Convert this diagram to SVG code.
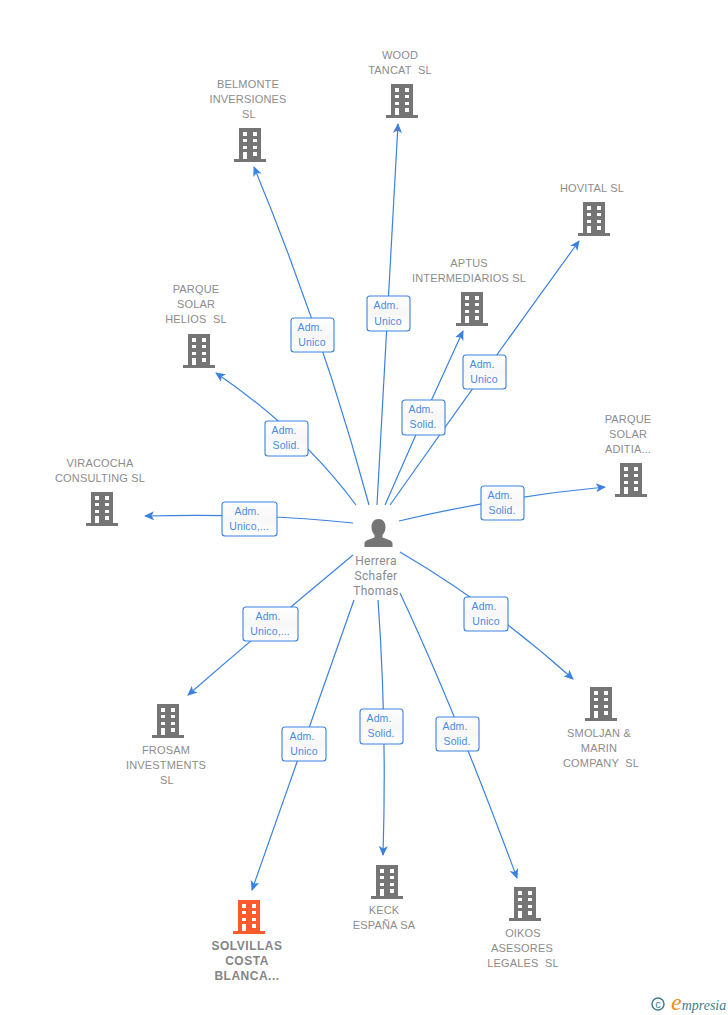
<svg xmlns="http://www.w3.org/2000/svg" width="728" height="1015" viewBox="0 0 728 1015">
<style>
.n{font-family:"Liberation Sans",Arial,sans-serif;font-size:11px;letter-spacing:.17px;fill:#8c8c8c;text-anchor:middle}
.b{font-weight:bold;font-size:12px;letter-spacing:.5px;fill:#858585}
.p{font-family:Roboto,"Liberation Sans",sans-serif;font-size:12px;letter-spacing:.25px;fill:#8a8a8a;text-anchor:middle}
.l{font-family:"Liberation Sans",Arial,sans-serif;font-size:10.5px;letter-spacing:.1px;fill:#4a8ae2;text-anchor:middle}
.c path{fill:none;stroke:#3b82e0;stroke-width:1.2;marker-end:url(#a)}
.x{fill:url(#g);stroke:#3b82e0;stroke-width:1.1}
.w{fill:#fff}
</style>
<defs>
<linearGradient id="g" x1="0" y1="0" x2="0" y2="1"><stop offset="0" stop-color="#fff"/><stop offset=".5" stop-color="#f7f7f7"/><stop offset="1" stop-color="#fff"/></linearGradient>
<marker id="a" markerWidth="11" markerHeight="10" refX="9" refY="5" orient="auto" markerUnits="userSpaceOnUse"><path d="M0 0.5L10 5L0 9.500L2.500 5Z" fill="#3b82e0"/></marker>
<g id="bd">
<path d="M5 0H27V31H32V34H0V31H5Z"/>
<path class="w" d="M9 4h4v4h-4zM19 4h4v4h-4zM9 11h4v3h-4zM19 11h4v3h-4zM9 18h4v3h-4zM19 18h4v3h-4zM9 24h4v7h-4zM19 24h4v4h-4z"/>
</g>
</defs>
<rect width="728" height="1015" fill="#fff"/>
<g class="c" id="connectors">
<path d="M369 505Q323 334 254 167"/>
<path d="M377 505Q388 313 398 124"/>
<path d="M390 505Q484 372 579 241"/>
<path d="M385 505Q423 417 463 331"/>
<path d="M356 505Q300 430 216 373"/>
<path d="M399 521Q500 497 605 487"/>
<path d="M353 523Q260 513 145 516"/>
<path d="M353 555Q271 623 188 695"/>
<path d="M400 552Q489 604 573 679"/>
<path d="M354 600Q304 743 252 890"/>
<path d="M378 600Q387 726 383 855"/>
<path d="M400 593Q454 708 517 878"/>
</g>
<g id="link-labels">
<g><rect class="x" x="291" y="318" width="43" height="34" rx="3"/><text class="l" x="310" y="331">Adm.</text><text class="l" x="312" y="346">Unico</text></g>
<g><rect class="x" x="367" y="296" width="43" height="35" rx="3"/><text class="l" x="386" y="309">Adm.</text><text class="l" x="388" y="325">Unico</text></g>
<g><rect class="x" x="463" y="355" width="43" height="34" rx="3"/><text class="l" x="482" y="368">Adm.</text><text class="l" x="484" y="383">Unico</text></g>
<g><rect class="x" x="402" y="400" width="43" height="35" rx="3"/><text class="l" x="421" y="413">Adm.</text><text class="l" x="423" y="428">Solid.</text></g>
<g><rect class="x" x="265" y="421" width="43" height="35" rx="3"/><text class="l" x="284" y="434">Adm.</text><text class="l" x="286" y="449">Solid.</text></g>
<g><rect class="x" x="222" y="502" width="55" height="34" rx="3"/><text class="l" x="247" y="515">Adm.</text><text class="l" x="249" y="530">Unico,...</text></g>
<g><rect class="x" x="481" y="486" width="43" height="34" rx="3"/><text class="l" x="500" y="499">Adm.</text><text class="l" x="502" y="514">Solid.</text></g>
<g><rect class="x" x="243" y="607" width="55" height="34" rx="3"/><text class="l" x="268" y="620">Adm.</text><text class="l" x="270" y="635">Unico,...</text></g>
<g><rect class="x" x="464" y="597" width="44" height="34" rx="3"/><text class="l" x="484" y="610">Adm.</text><text class="l" x="486" y="625">Unico</text></g>
<g><rect class="x" x="282" y="727" width="44" height="34" rx="3"/><text class="l" x="302" y="740">Adm.</text><text class="l" x="304" y="755">Unico</text></g>
<g><rect class="x" x="360" y="709" width="43" height="35" rx="3"/><text class="l" x="379" y="722">Adm.</text><text class="l" x="381" y="737">Solid.</text></g>
<g><rect class="x" x="436" y="717" width="43" height="34" rx="3"/><text class="l" x="455" y="730">Adm.</text><text class="l" x="457" y="745">Solid.</text></g>
</g>
<g id="person"><path fill="#757575" d="M378.500 519c-4.500 0-7 3.500-7 8 0 3 1 6 3 8v2.500c-3 1.500-9.500 2.500-10 5.500v4h28v-4c-.5-3-7-4-10-5.500V535c2-2 3-5 3-8 0-4.500-2.500-8-7-8Z"/><text class="p" x="376" y="565">Herrera</text><text class="p" x="376" y="580">Schafer</text><text class="p" x="376" y="595">Thomas</text></g>
<g id="wood"><use href="#bd" x="386" y="84" fill="#757575"/><text class="n" x="400" y="59">WOOD</text><text class="n" x="400" y="74" xml:space="preserve">TANCAT  SL</text></g>
<g id="belmonte"><use href="#bd" x="234" y="128" fill="#757575"/><text class="n" x="248" y="88">BELMONTE</text><text class="n" x="248" y="103">INVERSIONES</text><text class="n" x="249" y="118">SL</text></g>
<g id="hovital"><use href="#bd" x="578" y="202" fill="#757575"/><text class="n" x="592" y="192">HOVITAL SL</text></g>
<g id="aptus"><use href="#bd" x="456" y="292" fill="#757575"/><text class="n" x="469" y="267">APTUS</text><text class="n" x="469" y="282">INTERMEDIARIOS SL</text></g>
<g id="helios"><use href="#bd" x="183" y="334" fill="#757575"/><text class="n" x="196" y="293">PARQUE</text><text class="n" x="196" y="308">SOLAR</text><text class="n" x="196" y="323" xml:space="preserve">HELIOS  SL</text></g>
<g id="aditia"><use href="#bd" x="615" y="463" fill="#757575"/><text class="n" x="628" y="423">PARQUE</text><text class="n" x="628" y="438">SOLAR</text><text class="n" x="628" y="453">ADITIA...</text></g>
<g id="viracocha"><use href="#bd" x="86" y="492" fill="#757575"/><text class="n" x="100" y="467">VIRACOCHA</text><text class="n" x="100" y="482">CONSULTING SL</text></g>
<g id="frosam"><use href="#bd" x="152" y="704" fill="#757575"/><text class="n" x="166" y="754">FROSAM</text><text class="n" x="166" y="769">INVESTMENTS</text><text class="n" x="167" y="784">SL</text></g>
<g id="smoljan"><use href="#bd" x="585" y="687" fill="#757575"/><text class="n" x="599" y="737">SMOLJAN &amp;</text><text class="n" x="599" y="752">MARIN</text><text class="n" x="601" y="767" xml:space="preserve">COMPANY  SL</text></g>
<g id="solvillas"><use href="#bd" x="233" y="900" fill="#ff5a2c"/><text class="n b" x="247" y="950">SOLVILLAS</text><text class="n b" x="247" y="965">COSTA</text><text class="n b" x="247" y="980">BLANCA...</text></g>
<g id="keck"><use href="#bd" x="371" y="865" fill="#757575"/><text class="n" x="384" y="914">KECK</text><text class="n" x="384" y="929">ESPAÑA SA</text></g>
<g id="oikos"><use href="#bd" x="509" y="887" fill="#757575"/><text class="n" x="523" y="937">OIKOS</text><text class="n" x="522" y="952">ASESORES</text><text class="n" x="523" y="967" xml:space="preserve">LEGALES  SL</text></g>
<g id="logo"><circle cx="658" cy="1004" r="6" fill="none" stroke="#3d7f8f" stroke-width="1.500"/><text x="658" y="1008" font-family="Liberation Sans,sans-serif" font-size="11" fill="#3d7f8f" text-anchor="middle">c</text><text x="671" y="1010" font-family="Liberation Serif,serif" font-style="italic" font-size="14" fill="#3d7f8f"><tspan fill="#f08a1d" font-size="24">e</tspan>mpresia</text></g>
</svg>
